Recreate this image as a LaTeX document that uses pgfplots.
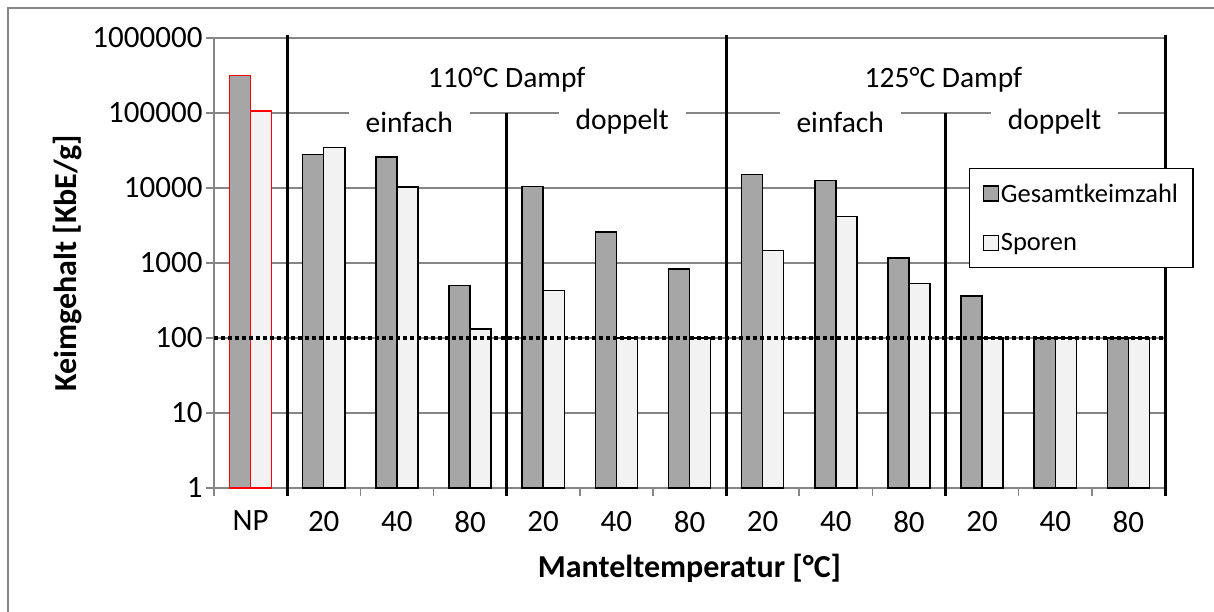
\documentclass[border=0pt]{standalone}
\usepackage{pgfplots}
\pgfplotsset{compat=1.18}
\usepackage{fontspec}
\setmainfont{Carlito}
\definecolor{gridgray}{RGB}{134,134,134}
\definecolor{darkbar}{RGB}{166,166,166}
\definecolor{lightbar}{RGB}{242,242,242}
\newcommand{\tl}[1]{\mbox{\fontsize{31}{33}\selectfont #1}}
\begin{document}
\begin{tikzpicture}
\begin{axis}[
  at={(214pt,124pt)}, anchor=south west,
  scale only axis, width=951pt, height=450pt,
  xmin=-0.5, xmax=12.5,
  ymode=log, ymin=1, ymax=1000000,
  clip=false,
  axis lines*=left,
  axis line style={gridgray, line width=1.5pt},
  ymajorgrids, grid style={gridgray, line width=1.5pt},
  yminorticks=false,
  ytick={1,10,100,1000,10000,100000,1000000},
  yticklabels={\tl{1},\tl{10},\tl{100},\tl{1000},\tl{10000},\tl{100000},\tl{1000000}},
  xtick={0,...,12},
  xticklabels={\tl{NP},\tl{20},\tl{40},\tl{80},\tl{20},\tl{40},\tl{80},\tl{20},\tl{40},\tl{80},\tl{20},\tl{40},\tl{80}},
  xticklabel style={yshift=-11.5pt},
  major x tick style={draw=none},
  minor xtick={-0.5,0.5,...,12.5},
  tick align=outside,
  major tick length=8pt, minor tick length=8pt,
  tick style={gridgray, line width=1.5pt},
  xlabel={Manteltemperatur [°C]},
  ylabel={Keimgehalt [KbE/g]},
  xlabel style={at={(axis description cs:0.5,-0.178)}, anchor=center, font=\fontsize{32}{34}\selectfont\bfseries},
  ylabel style={at={(axis description cs:-0.1535,0.5)}, anchor=center, font=\fontsize{32}{34}\selectfont\bfseries},
  legend style={at={(rel axis cs:0.794,0.711)}, anchor=north west, draw=black, line width=1.2pt, fill=white,
    font=\fontsize{26.5}{30}\selectfont, inner xsep=13pt, inner ysep=13pt, row sep=26pt},
  legend cell align=left,
]
% NP bars (red outline)
\addplot[ybar, forget plot, bar width=0.288, bar shift=-0.144, fill=darkbar, draw=red, line width=1.5pt] coordinates {(0,315000)};
\addplot[ybar, forget plot, bar width=0.288, bar shift=0.144, fill=lightbar, draw=red, line width=1.5pt] coordinates {(0,107000)};
% Gesamtkeimzahl
\addplot[ybar, forget plot, bar width=0.288, bar shift=-0.144, fill=darkbar, draw=black, line width=1.5pt] coordinates {
(1,28100) (2,25900) (3,504) (4,10500) (5,2590) (6,832) (7,15200) (8,12650) (9,1166) (10,363) (11,100) (12,100)};
% Sporen
\addplot[ybar, forget plot, bar width=0.288, bar shift=0.144, fill=lightbar, draw=black, line width=1.5pt] coordinates {
(1,34500) (2,10300) (3,132) (4,433) (5,100) (6,100) (7,1460) (8,4190) (9,535) (10,100) (11,100) (12,100)};
% limit line
\addplot[forget plot, black, line width=4pt, dash pattern=on 3.5pt off 3.5pt] coordinates {(-0.5,100) (12.5,100)};
% separators
\addplot[forget plot, black, line width=3pt] coordinates {(0.5,1100000) (0.5,0.78)};
\addplot[forget plot, black, line width=3pt] coordinates {(3.5,100000) (3.5,0.78)};
\addplot[forget plot, black, line width=3pt] coordinates {(6.5,1100000) (6.5,0.78)};
\addplot[forget plot, black, line width=3pt] coordinates {(9.5,100000) (9.5,0.78)};
\addplot[forget plot, black, line width=3pt] coordinates {(12.5,1100000) (12.5,0.78)};
% annotations
\node[font=\fontsize{29.5}{32}\selectfont] at (axis cs:3.5,275000) {110°C Dampf};
\node[font=\fontsize{29.5}{32}\selectfont] at (axis cs:9.47,275000) {125°C Dampf};
\node[font=\fontsize{29.5}{32}\selectfont, fill=white, inner xsep=17pt, inner ysep=1pt] at (axis cs:2.17,75900) {einfach};
\node[font=\fontsize{29.5}{32}\selectfont, fill=white, inner xsep=17pt, inner ysep=1pt] at (axis cs:5.08,75900) {doppelt};
\node[font=\fontsize{29.5}{32}\selectfont, fill=white, inner xsep=17pt, inner ysep=1pt] at (axis cs:8.06,75900) {einfach};
\node[font=\fontsize{29.5}{32}\selectfont, fill=white, inner xsep=17pt, inner ysep=1pt] at (axis cs:10.99,75900) {doppelt};
% legend
\addlegendimage{legend image code/.code={\draw[fill=darkbar, draw=black, line width=1.2pt] (0pt,-7.5pt) rectangle (15pt,7.5pt);}}
\addlegendentry{Gesamtkeimzahl}
\addlegendimage{legend image code/.code={\draw[fill=lightbar, draw=black, line width=1.2pt] (0pt,-7.5pt) rectangle (15pt,7.5pt);}}
\addlegendentry{Sporen}
\end{axis}
\draw[gridgray, line width=1.5pt] (8pt,0pt) -- (8pt,604pt) -- (1214pt,604pt);
\pgfresetboundingbox
\useasboundingbox (0,0) rectangle (1214pt,612pt);
\end{tikzpicture}
\end{document}
